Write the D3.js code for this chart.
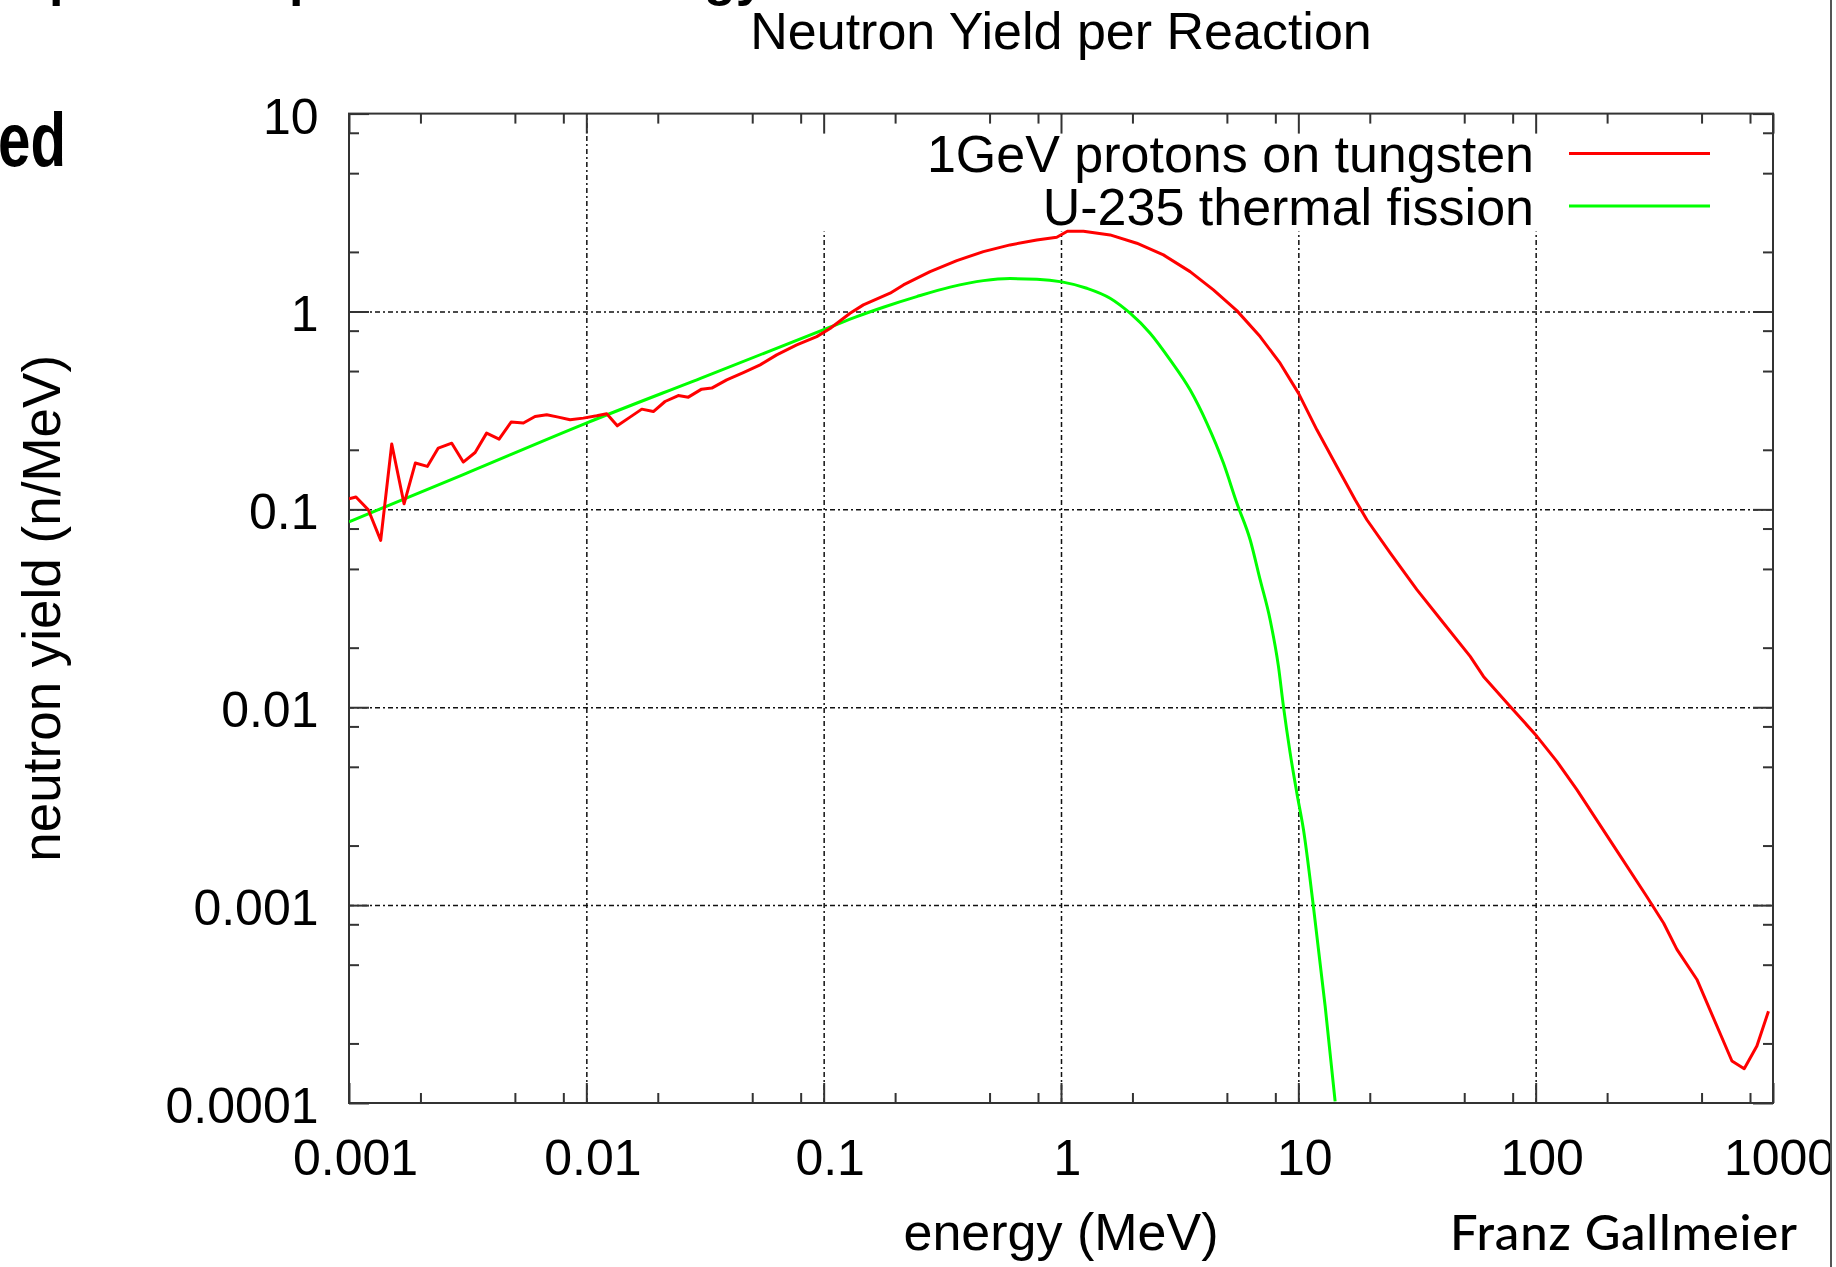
<!DOCTYPE html>
<html>
<head>
<meta charset="utf-8">
<script src="https://cdn.jsdelivr.net/npm/d3@7"></script>
<style>
  body { margin: 0; background: #fff; }
  svg { display: block; }
  text { font-family: "Liberation Sans", Arial, sans-serif; fill: #000; }
</style>
</head>
<body>
<div class="chart"></div>
<script>
// 1GeV protons on tungsten
const tungstenE = [0.001, 0.00107, 0.001206, 0.00136, 0.001514, 0.001706, 0.001903, 0.002138, 0.002378, 0.00271,
  0.00303, 0.0034, 0.0038, 0.00429, 0.00482, 0.00543, 0.00608, 0.00681, 0.00762, 0.00854,
  0.00971, 0.01106, 0.01219, 0.0135, 0.01528, 0.01713, 0.01916, 0.02146, 0.0244, 0.0269,
  0.0306, 0.03377, 0.03904, 0.04587, 0.054, 0.0634, 0.07701, 0.0935, 0.1064, 0.1292,
  0.147, 0.1905, 0.2168, 0.2809, 0.3639, 0.471, 0.6103, 0.7907, 0.96, 1.064,
  1.243, 1.61, 2.086, 2.701, 3.499, 4.387, 5.506, 6.902, 8.381, 10.01,
  11.97, 14.53, 17.35, 19.44, 24.37, 31.58, 40.88, 52.97, 60.26, 78.08,
  101.2, 122.8, 149.1, 190.1, 212.1, 293.8, 346.3, 393.6, 477.9, 671.4,
  756.3, 855.3, 957.1];
const tungstenYield = [0.113, 0.1154, 0.0995, 0.0697, 0.214, 0.1067, 0.1714, 0.1648, 0.204, 0.216,
  0.1734, 0.1938, 0.2428, 0.2265, 0.276, 0.273, 0.2946, 0.3006, 0.2925, 0.2836,
  0.2891, 0.297, 0.304, 0.2643, 0.2925, 0.321, 0.312, 0.3508, 0.376, 0.369,
  0.405, 0.41, 0.4513, 0.4913, 0.5374, 0.6036, 0.678, 0.7466, 0.82, 0.98,
  1.08, 1.237, 1.362, 1.59, 1.807, 2.007, 2.17, 2.299, 2.373, 2.544,
  2.544, 2.437, 2.213, 1.932, 1.59, 1.285, 1.01, 0.7466, 0.548, 0.3868,
  0.2523, 0.1647, 0.1118, 0.0886, 0.0602, 0.0393, 0.02666, 0.01807, 0.01432, 0.0101,
  0.00713, 0.00533, 0.003836, 0.002458, 0.00201, 0.001105, 0.00081, 0.000597, 0.000421, 0.000163,
  0.000149, 0.000194, 0.000291];

// U-235 thermal fission
const fissionE = [0.001, 0.00303, 0.01, 0.0316, 0.1064, 0.1379, 0.1785, 0.2467, 0.341, 0.471,
  0.6103, 0.7907, 1.008, 1.284, 1.61, 1.955, 2.374, 2.883, 3.499, 4.116,
  4.835, 5.506, 6.266, 6.902, 7.605, 8.245, 8.654, 9.235, 9.856, 10.51,
  11.58, 12.97, 14.29];
const fissionYield = [0.0865, 0.15, 0.273, 0.469, 0.833, 0.942, 1.051, 1.189, 1.327, 1.432,
  1.466, 1.456, 1.411, 1.311, 1.167, 0.98, 0.777, 0.5695, 0.4018, 0.2729,
  0.1713, 0.1076, 0.0702, 0.0441, 0.02769, 0.01609, 0.0101, 0.00588, 0.00369, 0.00241,
  0.00098, 0.000309, 0.000102];

const seriesNames = ['1GeV protons on tungsten', 'U-235 thermal fission'];
const seriesColors = ['#ff0000', '#00ff00'];

const xTicks = [0.001, 0.01, 0.1, 1, 10, 100, 1000];
const xTickLabels = ['0.001', '0.01', '0.1', '1', '10', '100', '1000'];
const yTicks = [0.0001, 0.001, 0.01, 0.1, 1, 10];
const yTickLabels = ['0.0001', '0.001', '0.01', '0.1', '1', '10'];
const minorSteps = [2, 5, 8];

const W = 1836, H = 1267;
const pLeft = 349, pRight = 1773, pTop = 113.6, pBottom = 1103;

const svg = d3.select('.chart').append('svg')
  .attr('width', W)
  .attr('height', H)
  .attr('viewBox', `0 0 ${W} ${H}`);

svg.append('rect').attr('width', W).attr('height', H).attr('fill', '#fff');

const defs = svg.append('defs');
defs.append('clipPath').attr('id', 'plotClip')
  .append('rect').attr('x', pLeft).attr('y', pTop)
  .attr('width', pRight - pLeft).attr('height', pBottom - pTop);
defs.append('clipPath').attr('id', 'pageClip')
  .append('rect').attr('x', 0).attr('y', 0).attr('width', 1830).attr('height', H);

const page = svg.append('g').attr('clip-path', 'url(#pageClip)');

const x = d3.scaleLog().domain([0.001, 1000]).range([pLeft, pRight]);
const y = d3.scaleLog().domain([0.0001, 10]).range([pBottom, pTop]);

function minorOf(majors) {
  const out = [];
  majors.slice(0, -1).forEach(d => minorSteps.forEach(m => out.push(d * m)));
  return out;
}
const xMinor = minorOf(xTicks);
const yMinor = minorOf(yTicks);

// grid
const grid = page.append('g').attr('class', 'grid');
grid.append('g')
  .attr('transform', `translate(0,${pBottom})`)
  .call(d3.axisBottom(x).tickValues(xTicks.slice(1, -1)).tickSize(-(pBottom - pTop)).tickFormat(''));
grid.append('g')
  .attr('transform', `translate(${pLeft},0)`)
  .call(d3.axisLeft(y).tickValues(yTicks.slice(1, -1)).tickSize(-(pRight - pLeft)).tickFormat(''));
grid.selectAll('.domain').remove();
grid.selectAll('line')
  .attr('stroke', '#111')
  .attr('stroke-width', 1.5)
  .attr('stroke-dasharray', '5,3,2,3');

// key box hides the grid behind the legend
page.append('rect')
  .attr('x', 800).attr('y', pTop + 1.5)
  .attr('width', pRight - 801.5).attr('height', 230 - pTop)
  .attr('fill', '#fff');

// axes, ticks inward on all four sides
const axes = page.append('g').attr('class', 'axes');
function addAxis(axis, tf, size) {
  const g = axes.append('g').attr('transform', tf).call(axis.tickSize(-size));
  g.select('.domain').remove();
  g.selectAll('line').attr('stroke', '#333').attr('stroke-width', 2);
  return g;
}
const xAxis = addAxis(d3.axisBottom(x).tickValues(xTicks).tickFormat((d, i) => xTickLabels[i]), `translate(0,${pBottom})`, 20);
addAxis(d3.axisBottom(x).tickValues(xMinor).tickFormat(''), `translate(0,${pBottom})`, 10);
addAxis(d3.axisTop(x).tickValues(xTicks).tickFormat(''), `translate(0,${pTop})`, 20);
addAxis(d3.axisTop(x).tickValues(xMinor).tickFormat(''), `translate(0,${pTop})`, 10);
const yAxis = addAxis(d3.axisLeft(y).tickValues(yTicks).tickFormat((d, i) => yTickLabels[i]), `translate(${pLeft},0)`, 20);
addAxis(d3.axisLeft(y).tickValues(yMinor).tickFormat(''), `translate(${pLeft},0)`, 10);
addAxis(d3.axisRight(y).tickValues(yTicks).tickFormat(''), `translate(${pRight},0)`, 20);
addAxis(d3.axisRight(y).tickValues(yMinor).tickFormat(''), `translate(${pRight},0)`, 10);

axes.selectAll('g').attr('font-family', null).attr('font-size', null);
xAxis.selectAll('text')
  .attr('y', 72).attr('dy', 0).attr('dx', 6)
  .style('font-size', '50px');
yAxis.selectAll('text')
  .attr('x', -30.5).attr('dy', '0.39em')
  .style('font-size', '50px');

axes.append('rect')
  .attr('x', pLeft).attr('y', pTop)
  .attr('width', pRight - pLeft).attr('height', pBottom - pTop)
  .attr('fill', 'none')
  .attr('stroke', '#333')
  .attr('stroke-width', 2);

// curves
const curves = page.append('g').attr('clip-path', 'url(#plotClip)');
const redLine = d3.line().x(d => x(d[0])).y(d => y(d[1]));
const greenLine = d3.line().x(d => x(d[0])).y(d => y(d[1])).curve(d3.curveMonotoneX);

curves.append('path')
  .datum(d3.zip(fissionE, fissionYield))
  .attr('d', greenLine)
  .attr('fill', 'none')
  .attr('stroke', seriesColors[1])
  .attr('stroke-width', 3);

curves.append('path')
  .datum(d3.zip(tungstenE, tungstenYield))
  .attr('d', redLine)
  .attr('fill', 'none')
  .attr('stroke', seriesColors[0])
  .attr('stroke-width', 3)
  .attr('stroke-linejoin', 'round');

// legend
const legend = page.append('g').attr('class', 'legend');
seriesNames.forEach((name, i) => {
  const ly = 153.4 + i * 52.6;
  legend.append('text')
    .attr('x', 1534).attr('y', ly + 19)
    .attr('text-anchor', 'end')
    .style('font-size', '52px')
    .text(name);
  legend.append('line')
    .attr('x1', 1569).attr('x2', 1710)
    .attr('y1', ly).attr('y2', ly)
    .attr('stroke', seriesColors[i])
    .attr('stroke-width', 3);
});

// titles
page.append('text')
  .attr('x', (pLeft + pRight) / 2).attr('y', 49)
  .attr('text-anchor', 'middle')
  .style('font-size', '52px')
  .text('Neutron Yield per Reaction');

page.append('text')
  .attr('x', (pLeft + pRight) / 2).attr('y', 1250)
  .attr('text-anchor', 'middle')
  .style('font-size', '52px')
  .text('energy (MeV)');

page.append('text')
  .attr('transform', `translate(60,${(pTop + pBottom) / 2}) rotate(-90)`)
  .attr('text-anchor', 'middle')
  .style('font-size', '53px')
  .text('neutron yield (n/MeV)');

page.append('text')
  .attr('x', 1450).attr('y', 1250)
  .attr('textLength', 347)
  .style('font-family', 'Lato, "Open Sans", sans-serif')
  .style('font-weight', 500)
  .style('font-size', '49px')
  .text('Franz Gallmeier');

// slide leftovers around the chart
page.append('text')
  .attr('x', -2).attr('y', 166)
  .attr('textLength', 68)
  .attr('lengthAdjust', 'spacingAndGlyphs')
  .style('font-weight', 'bold')
  .style('font-size', '76px')
  .text('ed');

const cut = page.append('text')
  .attr('y', -5)
  .style('font-weight', 'bold')
  .style('font-size', '52px');
cut.append('tspan').attr('x', 49).text('p');
cut.append('tspan').attr('x', 289).text('p');
cut.append('tspan').attr('x', 704).text('gy/');

svg.append('line')
  .attr('x1', 1831).attr('x2', 1831)
  .attr('y1', 0).attr('y2', H)
  .attr('stroke', '#555')
  .attr('stroke-width', 2);
</script>
</body>
</html>
